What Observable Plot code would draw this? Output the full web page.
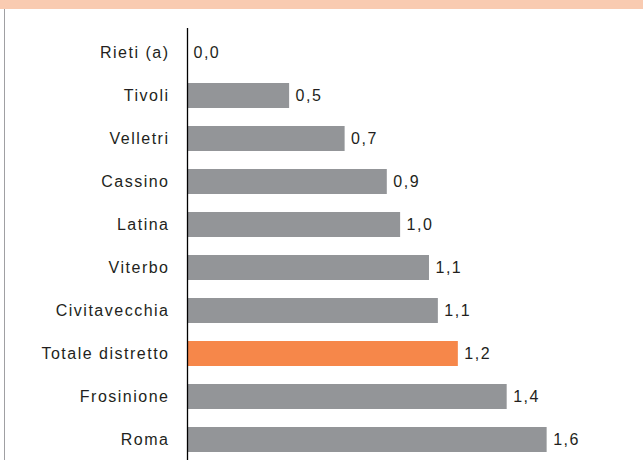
<!DOCTYPE html>
<html>
<head>
<meta charset="utf-8">
<script src="https://cdn.jsdelivr.net/npm/d3@7"></script>
<script src="https://cdn.jsdelivr.net/npm/@observablehq/plot@0.6"></script>
<style>
  html, body { margin: 0; padding: 0; overflow: hidden; background: #fff; }
  #wrap { position: relative; width: 643px; height: 460px; overflow: hidden; }
  #band { position: absolute; left: 0; top: 0; width: 643px; height: 9px; background: #f9cbb1; }
  #side { position: absolute; left: 3.5px; top: 9px; width: 1.5px; bottom: 0; background: #a0a0a3; }
  #chart { position: absolute; left: 0; top: 0; }
</style>
</head>
<body>
<div id="wrap">
  <div id="chart"></div>
  <div id="band"></div>
  <div id="side"></div>
</div>
<script>
const categories = ["Rieti (a)", "Tivoli", "Velletri", "Cassino", "Latina", "Viterbo", "Civitavecchia", "Totale distretto", "Frosinione", "Roma"];
const values = [0.0, 0.46, 0.71, 0.90, 0.96, 1.09, 1.13, 1.22, 1.44, 1.62];
const highlight = "Totale distretto";

const data = categories.map((c, i) => ({ category: c, value: values[i] }));
const fmt = v => v.toFixed(1).replace(".", ",");

const chart = Plot.plot({
  width: 643,
  height: 463,
  marginLeft: 187,
  marginRight: 12,
  marginTop: 28,
  marginBottom: 0,
  style: { fontFamily: "'Liberation Sans', Arial, sans-serif", fontSize: "16px", letterSpacing: "1.5px", color: "#231f20", background: "transparent" },
  x: { domain: [0, 2], axis: null },
  y: { domain: categories, paddingInner: 0.425, paddingOuter: 0.2125, label: null },
  marks: [
    Plot.barX(data, { x: "value", y: "category", fill: d => d.category === highlight ? "#f6874a" : "#939598" }),
    Plot.text(data, { x: "value", y: "category", text: d => fmt(d.value), textAnchor: "start", dx: 6, fill: "#231f20" }),
    Plot.axisY({ tickSize: 0, tickPadding: 18, label: null, fill: "#231f20" }),
    Plot.ruleX([0], { stroke: "#000", strokeWidth: 1.3 })
  ]
});
document.getElementById("chart").appendChild(chart);
</script>
</body>
</html>
